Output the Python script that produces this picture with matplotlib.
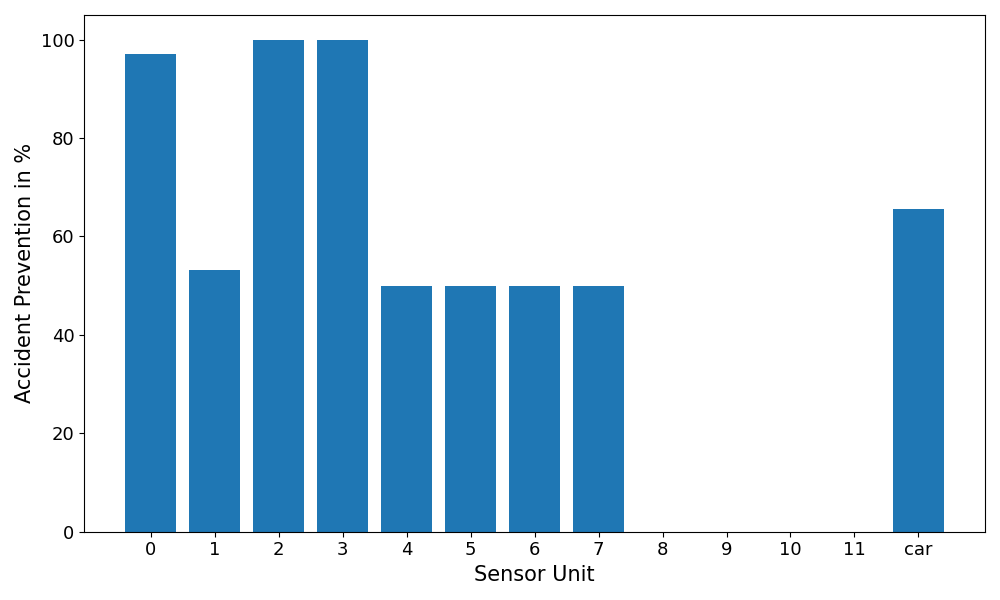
import matplotlib
matplotlib.use('Agg')
import matplotlib.pyplot as plt

units = ['0', '1', '2', '3', '4', '5', '6', '7', '8', '9', '10', '11', 'car']
prevention = [97, 53.2, 100, 100, 50, 50, 50, 50, 0, 0, 0, 0, 65.6]

fig, ax = plt.subplots(figsize=(10, 6), dpi=100)
ax.bar(units, prevention, color='#1f77b4')
ax.set_xlabel('Sensor Unit', fontsize=15)
ax.set_ylabel('Accident Prevention in %', fontsize=15)
ax.tick_params(labelsize=13)
plt.tight_layout()
plt.savefig('out.png')
